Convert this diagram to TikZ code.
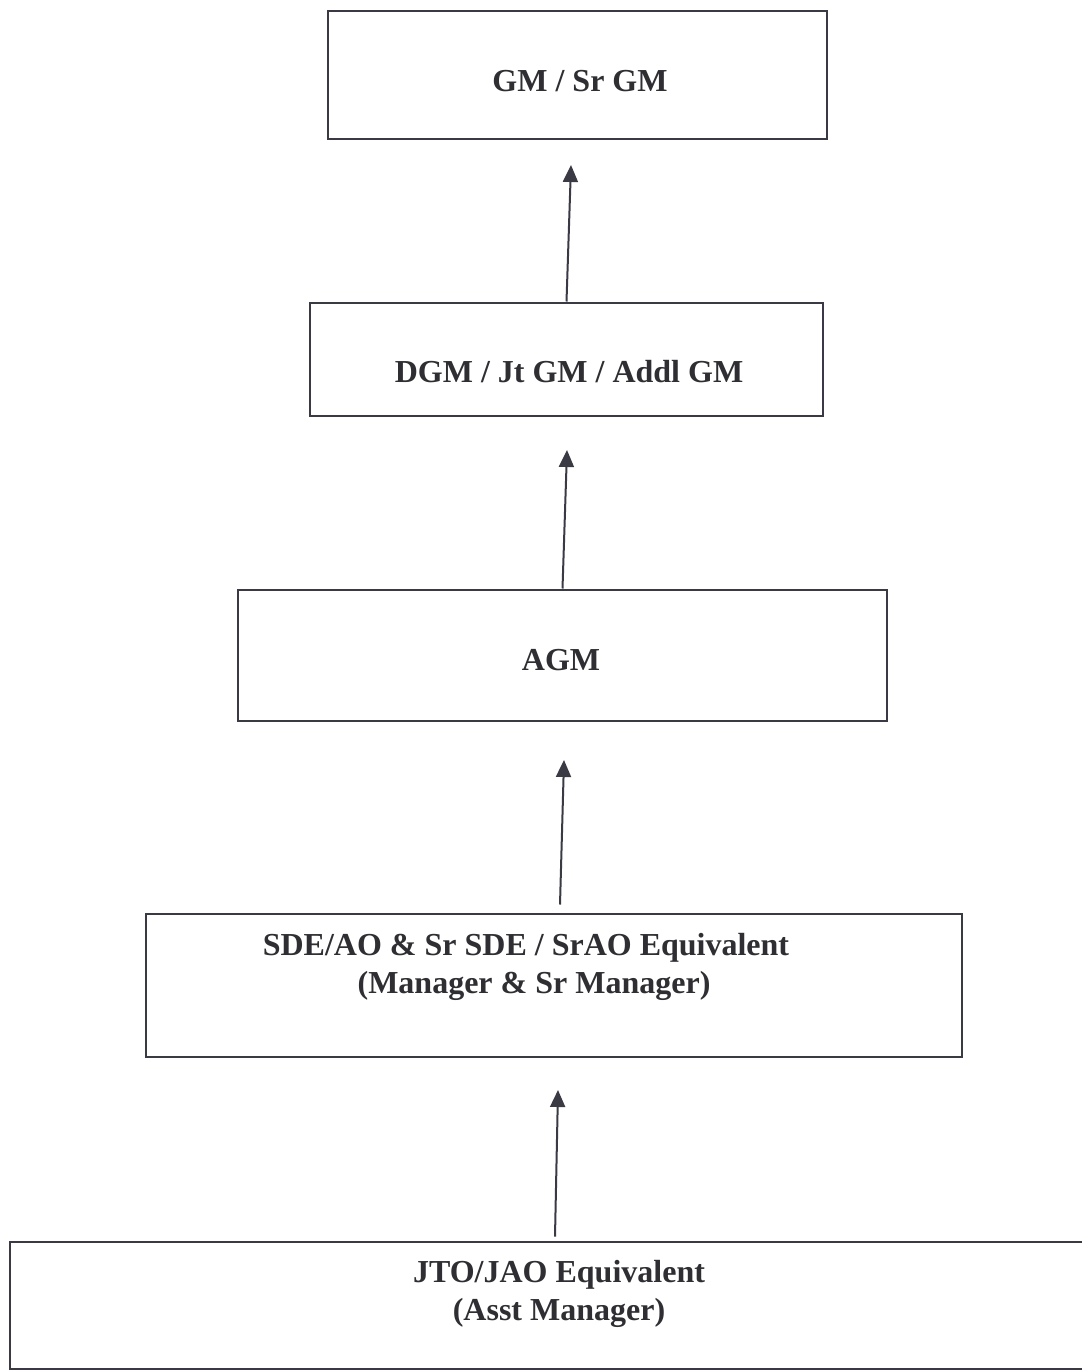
\documentclass[tikz,border=0pt]{standalone}
\usepackage{fontspec}
\setmainfont{Liberation Serif}
\usetikzlibrary{arrows.meta}
\definecolor{ink}{HTML}{3A3A44}
\definecolor{txt}{HTML}{2E2E33}
\begin{document}
\begin{tikzpicture}[x=1pt,y=-1pt,
  box/.style={draw=ink,line width=2pt,rectangle,inner sep=0pt},
  lbl/.style={text=txt,font=\fontsize{32}{38}\selectfont\bfseries,align=center,inner sep=0pt},
  up/.style={draw=ink,line width=2pt,-{Triangle[width=15pt,length=17pt]}}]
\fill[white] (0,0) rectangle (1081,1372);
\useasboundingbox (0,0) rectangle (1081,1372);
% boxes
\node[box,minimum width=499pt,minimum height=128pt] (gm) at (577.5,75.5) {};
\node[box,minimum width=513pt,minimum height=113pt] (dgm) at (566.5,359) {};
\node[box,minimum width=649pt,minimum height=131pt] (agm) at (562.5,655) {};
\node[box,minimum width=816pt,minimum height=143pt] (sde) at (554,985) {};
\node[box,minimum width=1098pt,minimum height=127pt] (jto) at (559,1305) {};
% labels
\node[lbl] (tgm) at (580,81) {GM / Sr GM};
\node[lbl] (tdgm) at (569,372) {DGM / Jt GM / Addl GM};
\node[lbl] (tagm) at (561,660) {AGM};
\node[lbl] (tsdea) at (526,948) {SDE/AO \& Sr SDE / SrAO Equivalent};
\node[lbl] (tsdeb) at (534,986) {(Manager \& Sr Manager)};
\node[lbl] (tjto) at (559,1294) {JTO/JAO Equivalent\\(Asst Manager)};
% arrow tips
\coordinate (a1) at (571,165);
\coordinate (a2) at (567,450);
\coordinate (a3) at (564,760);
\coordinate (a4) at (558,1090);
\draw[up] (dgm.north) -- (a1);
\draw[up] (agm.north) -- (a2);
\draw[up] ([xshift=6pt,yshift=8pt]sde.north) -- (a3);
\draw[up] ([xshift=-4pt,yshift=4pt]jto.north) -- (a4);
\end{tikzpicture}
\end{document}
